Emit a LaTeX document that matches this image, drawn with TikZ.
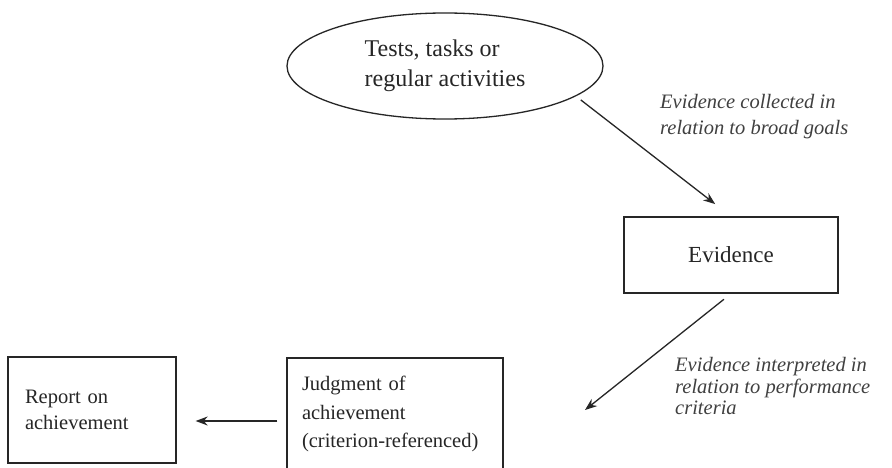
\documentclass[tikz,border=0pt]{standalone}
\usepackage{fontspec}
\setmainfont{Liberation Serif}
\usetikzlibrary{arrows.meta,shapes.geometric}
\begin{document}
\begin{tikzpicture}[x=1pt,y=-1pt,
  line/.style={draw=black!85,line width=1.3pt},
  arr/.style={line,-{Stealth[length=12pt,width=9pt]}},
  boxnode/.style={line,rectangle,inner sep=0pt,text=black!85},
  lab/.style={text=black!75,align=left,inner sep=0pt,anchor=west,font=\itshape\fontsize{20.5}{23}\selectfont}
]
\useasboundingbox (0,0) rectangle (892,468);
\clip (0,0) rectangle (892,468);
\fill[white] (0,0) rectangle (892,468);
\node[line,ellipse,minimum width=316pt,minimum height=106pt,inner sep=0pt,text=black!85,align=left,
  font=\fontsize{24}{30}\selectfont] (ell) at (445,66) {Tests, tasks or\\regular activities};
\node[boxnode,minimum width=214pt,minimum height=76pt,font=\fontsize{23}{28}\selectfont] (ev) at (731,255) {Evidence};
\node[boxnode,minimum width=168pt,minimum height=106pt,text width=134pt,align=left,
  font=\fontsize{20.5}{26}\selectfont] (rp) at (92,410) {Report on\\achievement};
\node[boxnode,minimum width=216pt,minimum height=112pt,text width=186pt,align=left,
  font=\fontsize{20.5}{28.5}\selectfont] (jd) at (395,414) {Judgment of\\achievement\\(criterion-referenced)};
\coordinate (j2) at (585,410);
\draw[arr,shorten <=6pt,shorten >=20pt] (ell.-13) -- (ev.north);
\draw[arr,shorten <=9pt] (ev.south) -- (j2);
\draw[arr,shorten <=9pt,shorten >=19pt] (jd.west) ++(0,7) coordinate (s) -- (s -| rp.east);
\node[lab,font=\itshape\fontsize{20.5}{26}\selectfont] (l1) at (660,117) {Evidence collected in\\relation to broad goals};
\node[lab,font=\itshape\fontsize{20.5}{21.5}\selectfont] (l2) at (675,386) {Evidence interpreted in\\relation to performance\\criteria};
\end{tikzpicture}
\end{document}
